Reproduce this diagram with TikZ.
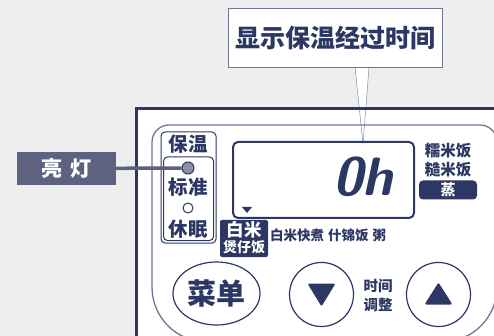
\documentclass[tikz,border=0pt]{standalone}
\usepackage{fontspec}
\newfontfamily\cjk{Noto Sans CJK SC}
\usepackage{tikz}
\usetikzlibrary{positioning}
\usetikzlibrary{shapes.geometric}
\usetikzlibrary{calc}
\definecolor{navy}{RGB}{44,56,99}
\definecolor{outline}{RGB}{112,118,150}
\definecolor{labelbg}{RGB}{94,97,128}
\definecolor{panelbg}{RGB}{238,238,238}
\definecolor{dotgray}{RGB}{140,143,158}
\tikzset{cn/.style={font={\cjk\bfseries\fontsize{#1}{#1}\selectfont}, text=navy, inner sep=0pt}}

\begin{document}
\begin{tikzpicture}[x=1pt,y=-1pt]
\fill[panelbg] (0,0) rectangle (494,336);
\useasboundingbox (0,0) rectangle (494,336);
\fill[white] (136,107) rectangle (494,336);
%callout pointer
\filldraw[fill=white, draw=outline] (355,67) -- (363,144) -- (369,67);
\draw[navy, line width=3] (136.5,336) -- (136.5,108.5) -- (494,108.5);
\draw[outline, line width=1.3] (152,287) -- (152,142) .. controls (152,132.6) and (159.6,125) .. (169,125)
  -- (480,125) .. controls (489.4,125) and (497,132.6) .. (497,142)
  -- (497,287) .. controls (497,317.4) and (472.4,342) .. (442,342)
  -- (207,342) .. controls (176.6,342) and (152,317.4) .. (152,287) -- cycle;
\node[draw=outline, fill=white, minimum width=214, minimum height=59, cn=25] (callout) at (335,37.5) {显示保温经过时间};

% warm / standard / sleep
\draw[navy, line width=1, rounded corners=4] (161,132) rectangle (216,243);
\draw[navy, line width=1, rounded corners=4] (163.5,157) rectangle (213.5,240.5);
\node[cn=19.5] (baowen) at (188,144) {保温};
\node[circle, draw=navy, fill=dotgray, line width=1, minimum size=12, inner sep=0pt] (dot) at (188,168) {};
\node[cn=19.5] (biaozhun) at (188,187) {标准};
\node[circle, draw=navy, fill=white, line width=1, minimum size=10, inner sep=0pt] (ring) at (188,208) {};
\node[cn=19.5] (xiumian) at (188,229) {休眠};

\node[fill=labelbg, minimum width=99, minimum height=33, cn=21, text=white] (light) at (66.5,168.5) {亮\hspace{9pt}灯};
\draw[labelbg, line width=3.5] (light) -- (dot);

% display
\node[draw=navy, line width=2, rounded corners=5, minimum width=181, minimum height=76] (lcd) at (323.5,180) {};
\node[font=\sffamily\bfseries\itshape\fontsize{54}{54}\selectfont, text=navy, inner sep=0pt] (time) at (363,177) {0h};
\fill[navy] (242,207) -- (252,207) -- (247,213) -- cycle;
\node[cn=15.5] (nuomi) at (448,151) {糯米饭};
\node[cn=15.5] (caomi) at (448,170) {糙米饭};
\node[fill=navy, rounded corners=4, minimum width=58, minimum height=19, cn=15, text=white] (steam) at (448,190) {蒸};

\node[fill=navy, rounded corners=2, minimum width=48, minimum height=37] (rice) at (244,238.5) {};
\node[cn=17.5, text=white] (baimi) at (244,229.5) {白米};
\node[cn=14, text=white] (baozai) at (244,247.5) {煲仔饭};
\node[cn=13.5, anchor=west] (modes) at (270,235) {白米快煮\hspace{4pt}什锦饭\hspace{4pt}粥};

% buttons
\node[ellipse, draw=navy, line width=1.2, minimum width=87, minimum height=63, cn=29] (caidan) at (216.5,293.5) {菜单};
\node[circle, draw=navy, line width=1.2, minimum size=64, inner sep=0pt] (down) at (321.5,294.5) {};
\node[circle, draw=navy, line width=1.2, minimum size=64, inner sep=0pt] (up) at (438.5,294.5) {};
\fill[navy, rounded corners=2] ($(down)+(-14,-11)$) -- ($(down)+(14,-11)$) -- ($(down)+(0,12)$) -- cycle;
\fill[navy, rounded corners=2] ($(up)+(-14,10)$) -- ($(up)+(14,10)$) -- ($(up)+(0,-12)$) -- cycle;
\node[cn=14.5] (shijian) at (378,286) {时间};
\node[cn=14.5] (tiaozheng) at (378,305) {调整};
\end{tikzpicture}
\end{document}
